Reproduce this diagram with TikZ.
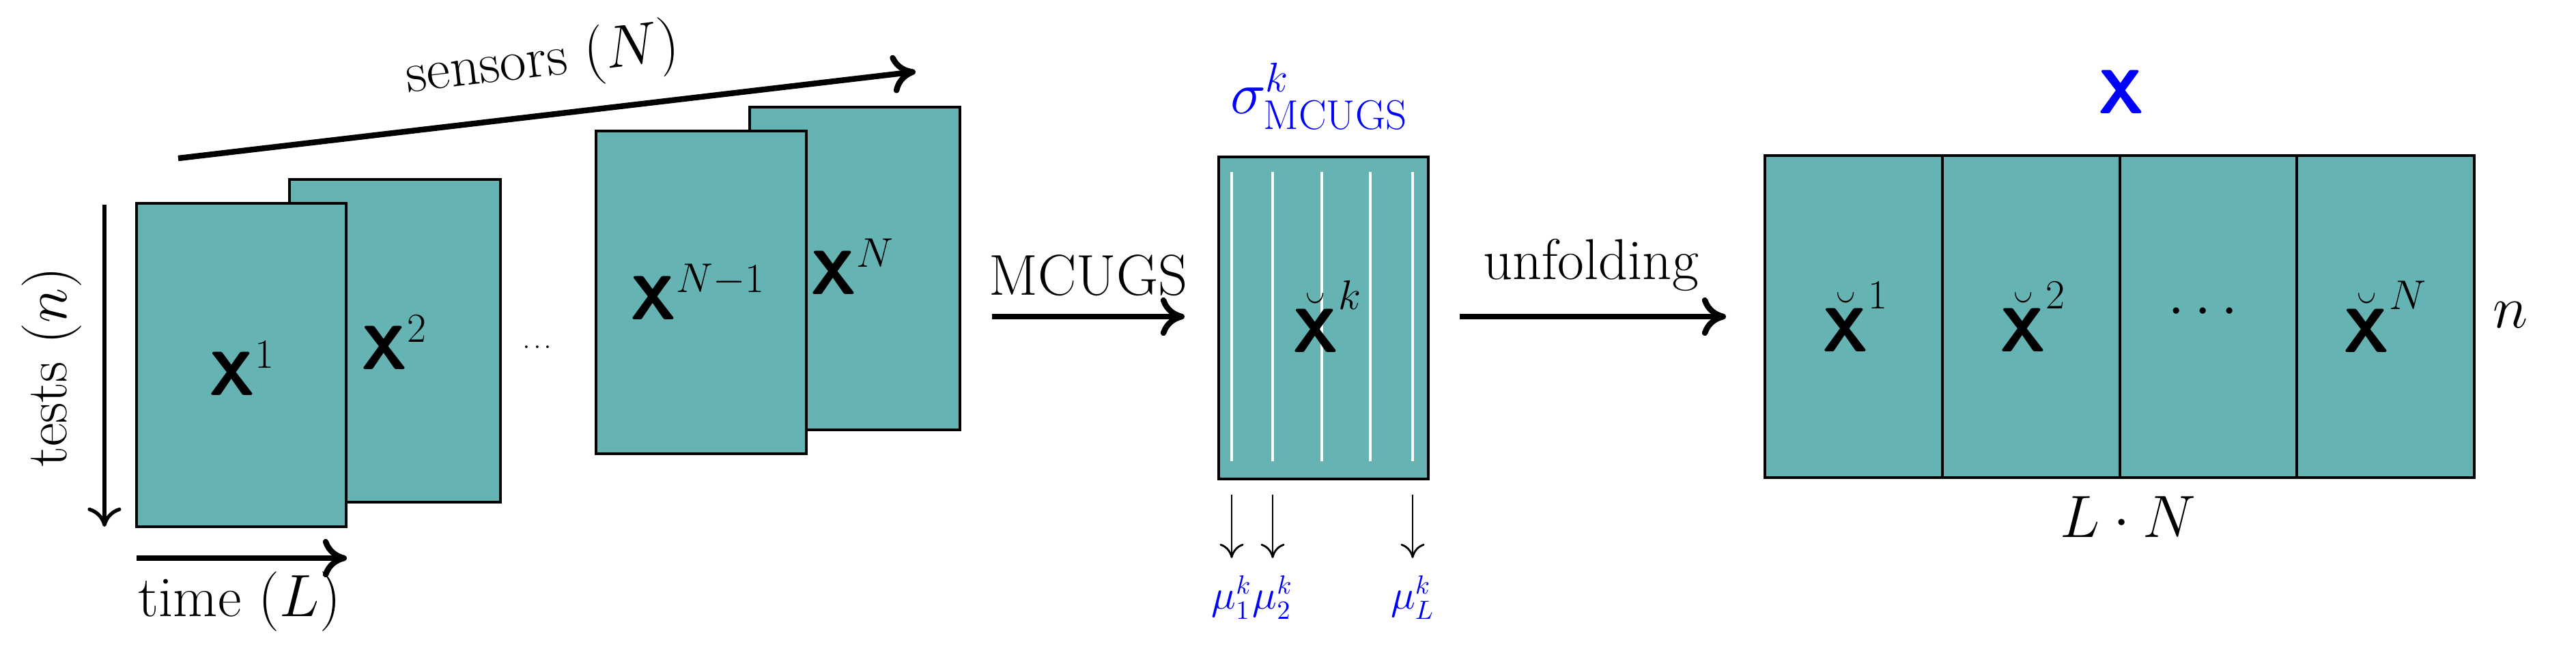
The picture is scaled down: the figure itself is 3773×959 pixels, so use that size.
\documentclass[tikz,border=0pt]{standalone}
\usepackage{amsmath}
\usetikzlibrary{arrows.meta}
\definecolor{tealf}{RGB}{102,179,179}
\begin{document}
\begin{tikzpicture}[x=0.01cm,y=-0.01cm,
  mat/.style={draw=black,line width=3pt/2.5,fill=tealf},
  big/.style={line width=2.4pt,-{To[length=10pt,width=16pt]}},
  thin/.style={line width=1.5pt,-{To[length=8pt,width=14pt]}},
  sm/.style={line width=0.8pt,-{To[length=6pt,width=10pt]}},
  txt/.style={font=\fontsize{24}{28}\selectfont},
  lbl/.style={font=\fontsize{26}{30}\selectfont}]
\useasboundingbox (0,0) rectangle (3773,959);
\newcommand{\bX}{\textsf{\textbf{X}}}
% stacks
\draw[mat] (1098,157) rectangle (1406,630);
\draw[mat] (873,192) rectangle (1181,665);
\draw[mat] (424,263) rectangle (733,736);
\draw[mat] (200,298) rectangle (507,772);
\node[lbl] (x1) at (355,540) {$\bX^{1}$};
\node[lbl] (x2) at (578,502) {$\bX^{2}$};
\node[lbl] (xn1) at (1022,428) {$\bX^{N-1}$};
\node[lbl] (xn) at (1249,391) {$\bX^{N}$};
\node[font=\fontsize{10}{12}\selectfont] (dots) at (790,510) {$\cdots$};
% axes
\coordinate (s0) at (261,232); \coordinate (s1) at (1341,105);
\draw[big] (s0) -- (s1);
\node[txt,rotate=6.7] (sl) at (795,90) {sensors $(N)$};
\coordinate (t0) at (153,300); \coordinate (t1) at (153,772);
\draw[thin] (t0) -- (t1);
\node[txt,rotate=90] (tl) at (76,538) {tests $(n)$};
\coordinate (l0) at (200,818); \coordinate (l1) at (508,818);
\draw[big] (l0) -- (l1);
\node[txt] (ll) at (351,882) {time $(L)$};
% MCUGS arrow
\coordinate (m0) at (1453,464); \coordinate (m1) at (1735,464);
\draw[big] (m0) -- (m1);
\node[txt] (ml) at (1594,404) {MCUGS};
% Xk
\node[mat,minimum width=307*0.01cm,minimum height=472*0.01cm,inner sep=0,anchor=north west] (xk) at (1783,228) {};
\foreach \x in {1804,1864,1936,2007,2069} \draw[white,line width=1pt] (\x,252) -- (\x,676);
\node[lbl] at (1944,464) {$\breve{\bX}^{k}$};
\node[lbl,text=blue] (sig) at (1932,141) {$\sigma^{k}_{\mathrm{MCUGS}}$};
\foreach \x/\s in {1804/1,1864/2,2069/L} {
  \coordinate (a\s) at (\x,725); \coordinate (b\s) at (\x,818);
  \draw[sm] (a\s) -- (b\s);
  \node[text=blue,font=\fontsize{16}{18}\selectfont,inner sep=0pt] (mu\s) at (\x,876) {$\mu^{k}_{\s}$};
}
% unfolding
\coordinate (u0) at (2138,464); \coordinate (u1) at (2528,464);
\draw[big] (u0) -- (u1);
\node[txt] (ul) at (2330,388) {unfolding};
% big matrix
\draw[mat] (2585,228) rectangle (3624,700);
\foreach \x in {2845,3105,3364} \draw[line width=1.2pt] (\x,228) -- (\x,700);
\node[lbl] at (2718,464) {$\breve{\bX}^{1}$};
\node[lbl] at (2978,464) {$\breve{\bX}^{2}$};
\node[lbl] at (3234,458) {$\cdots$};
\node[lbl] at (3494,464) {$\breve{\bX}^{N}$};
\node[lbl,text=blue] (bigx) at (3107,135) {\bX};
\node[lbl] (nl) at (3677,462) {$n$};
\node[lbl] (ln) at (3117,758) {$L\cdot N$};
\end{tikzpicture}
\end{document}
